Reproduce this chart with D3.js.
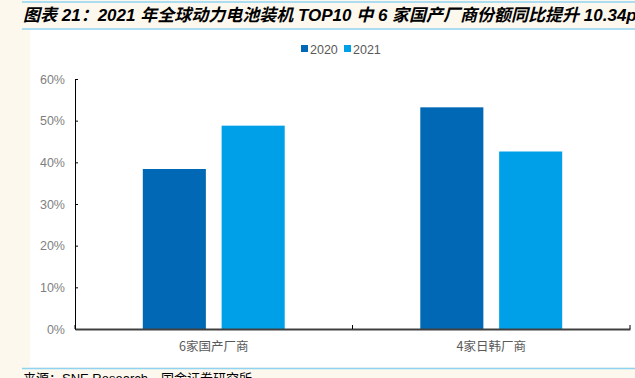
<!DOCTYPE html>
<html><head><meta charset="utf-8">
<script src="https://cdn.jsdelivr.net/npm/d3@7/dist/d3.min.js"></script>
<style>
html,body{margin:0;padding:0;background:#fdf8ee;}
svg{display:block;}
</style></head>
<body>
<script>
const title = "图表 21：2021 年全球动力电池装机 TOP10 中 6 家国产厂商份额同比提升 10.34pct";
const source = "来源：SNE Research，国金证券研究所";
const categories = ["6家国产厂商", "4家日韩厂商"];
const series = ["2020", "2021"];
const values2020 = [0.384, 0.532];
const values2021 = [0.488, 0.426];
const yTicks = [0, 0.1, 0.2, 0.3, 0.4, 0.5, 0.6];
const colors = ["#0068b4", "#00a0e8"];

const W = 635, H = 378;
const svg = d3.select("body").append("svg").attr("width", W).attr("height", H);
const font = "'Liberation Sans', Arial, 'Noto Sans CJK SC', sans-serif";

// background panels
svg.append("rect").attr("x", 0).attr("y", 0).attr("width", W).attr("height", H).attr("fill", "#fdf8ee");
svg.append("rect").attr("x", 30).attr("y", 30).attr("width", W - 30).attr("height", 337).attr("fill", "#ffffff");
svg.append("line").attr("x1", 22).attr("x2", W).attr("y1", 2).attr("y2", 2).attr("stroke", "#8fd3f2").attr("stroke-width", 1.5);
svg.append("line").attr("x1", 22).attr("x2", W).attr("y1", 29).attr("y2", 29).attr("stroke", "#8fd3f2").attr("stroke-width", 1.5);
svg.append("line").attr("x1", 22).attr("x2", W).attr("y1", 368.5).attr("y2", 368.5).attr("stroke", "#8fd3f2").attr("stroke-width", 1.5);

svg.append("text").attr("x", 23).attr("y", 21).text(title)
  .attr("font-family", "'Liberation Sans', Arial, 'Noto Sans CJK SC', sans-serif")
  .attr("font-size", 17).attr("font-weight", "bold").attr("font-style", "italic").attr("fill", "#000");

svg.append("text").attr("x", 23).attr("y", 383).text(source)
  .attr("font-family", font).attr("font-size", 13).attr("fill", "#000");

const m = {left: 75, right: 630, top: 79, bottom: 329};
const y = d3.scaleLinear().domain([0, 0.6]).range([m.bottom, m.top]);
const x0 = d3.scaleBand().domain(categories).range([m.left, m.right]).padding(0);
const x1 = d3.scaleBand().domain(series).range([0, x0.bandwidth()]).paddingInner(0.2).paddingOuter(0.86);

const data = categories.map((c, i) => ({cat: c, vals: [values2020[i], values2021[i]]}));

const g = svg.append("g");
g.selectAll("g.grp").data(data).join("g").attr("class", "grp")
  .attr("transform", d => `translate(${x0(d.cat)},0)`)
  .selectAll("rect").data(d => d.vals.map((v, j) => ({s: series[j], v, j})))
  .join("rect")
  .attr("x", d => x1(d.s)).attr("width", x1.bandwidth())
  .attr("y", d => y(d.v)).attr("height", d => y(0) - y(d.v))
  .attr("fill", d => colors[d.j]);

// y axis
const ya = svg.append("g").attr("transform", `translate(${m.left},0)`)
  .call(d3.axisLeft(y).tickValues(yTicks).tickFormat(d3.format(".0%")).tickSizeInner(-3).tickSizeOuter(-3).tickPadding(10));
ya.select(".domain").attr("stroke", "#000").attr("stroke-width", 1);
ya.selectAll(".tick line").attr("stroke", "#000");
ya.selectAll("text").attr("font-family", font).attr("font-size", 12.5).attr("fill", "#7f7f7f");

// x axis
const xa = svg.append("g").attr("transform", `translate(0,${m.bottom})`)
  .call(d3.axisBottom(x0).tickSize(0).tickPadding(13));
xa.select(".domain").attr("stroke", "#404040").attr("stroke-width", 2);
xa.selectAll("text").attr("font-family", "'Noto Sans CJK SC', sans-serif").attr("font-size", 12.5).attr("fill", "#595959");
// boundary ticks
const bounds = [x0.range()[0], x0(categories[1]), x0.range()[1]];
svg.append("g").selectAll("line").data(bounds).join("line")
  .attr("x1", d => d).attr("x2", d => d).attr("y1", m.bottom).attr("y2", m.bottom - 4)
  .attr("stroke", "#000").attr("stroke-width", 1);

// legend
const lg = svg.append("g").attr("transform", "translate(301,49)");
const li = lg.selectAll("g").data(series).join("g").attr("transform", (d, i) => `translate(${i * 43},0)`);
li.append("rect").attr("x", 0).attr("y", -4).attr("width", 7).attr("height", 7).attr("fill", (d, i) => colors[i]);
li.append("text").attr("x", 9).attr("y", 4.5).text(d => d)
  .attr("font-family", font).attr("font-size", 12.5).attr("fill", "#595959");
</script>
</body></html>
